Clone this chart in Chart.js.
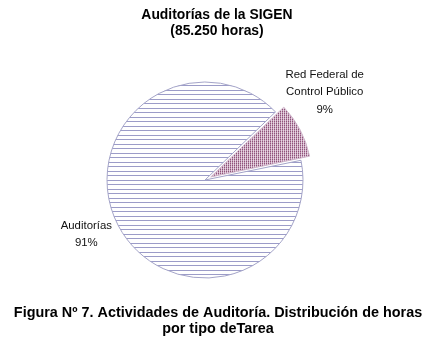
<!DOCTYPE html>
<html>
<head>
<meta charset="utf-8">
<script src="https://cdn.jsdelivr.net/npm/chart.js@4"></script>
<style>
  html, body { margin: 0; padding: 0; background: #ffffff; }
  #wrap { width: 437px; height: 356px; position: relative; }
</style>
</head>
<body>
<div id="wrap"><canvas id="c" width="437" height="356"></canvas></div>
<script>
// ---- data ----
const categories = ['Red Federal de\nControl Público', 'Auditorías'];
const percentValues = [9, 91];
const titleLines = ['Auditorías de la SIGEN', '(85.250 horas)'];
const captionLines = ['Figura N\u00ba 7. Actividades de Auditoría. Distribución de horas', 'por tipo deTarea'];

// ---- patterns ----
function linePattern() {
  const c = document.createElement('canvas');
  c.width = 8; c.height = 9;
  const g = c.getContext('2d');
  g.fillStyle = '#ffffff'; g.fillRect(0, 0, 8, 9);
  g.fillStyle = '#9c9cc8';
  g.fillRect(0, 0, 8, 1);
  g.fillRect(0, 4, 8, 1);
  return g.createPattern(c, 'repeat');
}
function dotPattern() {
  const c = document.createElement('canvas');
  c.width = 2; c.height = 2;
  const g = c.getContext('2d');
  g.fillStyle = '#ffffff'; g.fillRect(0, 0, 2, 2);
  g.fillStyle = '#6a1a4e';
  g.fillRect(0, 0, 1, 1);
  g.fillStyle = '#a86a96';
  g.fillRect(0, 1, 1, 1);
  return g.createPattern(c, 'repeat');
}

const FONT = '"Liberation Sans", Arial, sans-serif';

const textPlugin = {
  id: 'texts',
  afterDraw(chart) {
    const ctx = chart.ctx;
    ctx.save();
    ctx.fillStyle = '#000000';
    ctx.textAlign = 'center';
    ctx.textBaseline = 'middle';
    // title
    ctx.font = 'bold 13.9px ' + FONT;
    ctx.fillText(titleLines[0], 217, 15);
    ctx.fillText(titleLines[1], 217, 31);
    // caption
    ctx.font = 'bold 14.4px ' + FONT;
    ctx.fillText(captionLines[0], 218, 313);
    ctx.fillText(captionLines[1], 218, 329);
    // slice labels
    const meta = chart.getDatasetMeta(0);
    const shifts = [[33, -42], [-32, 8.5]];
    ctx.font = '11.4px ' + FONT;
    ctx.fillStyle = '#111111';
    meta.data.forEach((arc, i) => {
      const p = arc.getProps(['x', 'y', 'startAngle', 'endAngle', 'outerRadius'], true);
      const mid = (p.startAngle + p.endAngle) / 2;
      const r = p.outerRadius;
      const ax = p.x + Math.cos(mid) * r + shifts[i][0];
      const ay = p.y + Math.sin(mid) * r + shifts[i][1];
      const lines = categories[i].split('\n').concat([percentValues[i] + '%']);
      const lh = 17.5;
      const y0 = ay - (lines.length - 1) * lh / 2;
      lines.forEach((t, k) => ctx.fillText(t, ax, y0 + k * lh));
    });
    ctx.restore();
  }
};

new Chart(document.getElementById('c'), {
  type: 'pie',
  data: {
    labels: categories,
    datasets: [{
      data: percentValues,
      backgroundColor: [dotPattern(), linePattern()],
      borderColor: ['#d0b8cc', '#a4a4c8'],
      borderWidth: 1,
      offset: [26, 0]
    }]
  },
  options: {
    responsive: false,
    animation: false,
    rotation: 46,
    radius: 98,
    layout: { padding: { left: 0, right: 27, top: 4, bottom: 0 } },
    plugins: {
      legend: { display: false },
      tooltip: { enabled: false },
      title: { display: false }
    }
  },
  plugins: [textPlugin]
});
</script>
</body>
</html>
